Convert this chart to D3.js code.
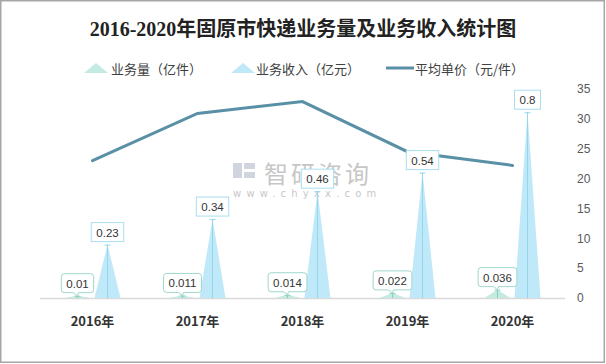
<!DOCTYPE html>
<html><head><meta charset="utf-8">
<script src="https://cdn.jsdelivr.net/npm/d3@7"></script>
<style>body{margin:0;background:#fff}svg{display:block}</style>
</head><body>
<svg id="c" width="606" height="364"></svg>
<script>
const years = ["2016年","2017年","2018年","2019年","2020年"];
const volume = [0.01, 0.011, 0.014, 0.022, 0.036];   // 业务量（亿件）
const revenue = [0.23, 0.34, 0.46, 0.54, 0.8];       // 业务收入（亿元）
const price = [23, 30.9, 32.9, 24.5, 22.2];          // 平均单价（元/件）
const rightTicks = [0,5,10,15,20,25,30,35];
const seriesNames = ["业务量（亿件）","业务收入（亿元）","平均单价（元/件）"];
const title = "2016-2020年固原市快递业务量及业务收入统计图";

const svg = d3.select("#c");
const W = 606, H = 364;
const cjk = "'Noto Sans CJK SC','Noto Sans',sans-serif";
const colVol = "#c4eae1", colVolLine = "#86cfbf", colVolBox = "#9fd7cb";
const colRev = "#bfe8f8", colRevLine = "#94d6ec", colRevBox = "#a9def0";
const colLine = "#5a90a6";

svg.append("rect").attr("x",0.75).attr("y",0.75).attr("width",W-2.5).attr("height",H-2.5)
  .attr("fill","#fff").attr("stroke","#a6a6a6").attr("stroke-width",1.5);

svg.append("text").attr("x",303).attr("y",36).attr("text-anchor","middle")
  .attr("font-family","'Liberation Serif','Noto Sans CJK SC',serif").attr("font-weight","bold")
  .attr("font-size",20).attr("fill","#222").text(title);

const x = d3.scaleBand().domain(years).range([40,565]);
const yL = d3.scaleLinear().domain([0,0.9]).range([298,89]);
const yR = d3.scaleLinear().domain([0,35]).range([298,89]);
const off = 15, hw = 13;

// watermark
const wm = svg.append("g").attr("opacity",0.55);
wm.append("rect").attr("x",233).attr("y",163).attr("width",9).attr("height",15).attr("fill","#aab3c8");
wm.append("rect").attr("x",244).attr("y",163).attr("width",11).attr("height",6).attr("fill","#aab3c8");
wm.append("rect").attr("x",244).attr("y",172).attr("width",11).attr("height",6).attr("fill","#aab3c8");
wm.append("text").attr("x",264).attr("y",183).attr("font-family",cjk).attr("font-size",24)
  .attr("letter-spacing",3).attr("fill","#999").text("智研咨询");
wm.append("text").attr("x",233).attr("y",197).attr("font-family","'DejaVu Sans',sans-serif").attr("font-size",10)
  .attr("letter-spacing",5.2).attr("fill","#999").text("www.chyxx.com");

// baseline
svg.append("line").attr("x1",40).attr("x2",565).attr("y1",298.5).attr("y2",298.5)
  .attr("stroke","#d9d9d9").attr("stroke-width",1.5);

// triangles
const tri = (cx, ty) => `M${cx-hw},298 L${cx},${ty} L${cx+hw},298 Z`;
const gV = svg.append("g"), gR = svg.append("g");
years.forEach((yr,i)=>{
  const cv = x(yr)+x.bandwidth()/2 - off, cr = x(yr)+x.bandwidth()/2 + off;
  gV.append("path").attr("d",tri(cv,yL(volume[i]))).attr("fill",colVol);
  gR.append("path").attr("d",tri(cr,yL(revenue[i]))).attr("fill",colRev);
  // drop lines with caps
  [[cv,yL(volume[i]),colVolLine],[cr,yL(revenue[i]),colRevLine]].forEach(([cx,ty,c])=>{
    svg.append("line").attr("x1",cx).attr("x2",cx).attr("y1",ty).attr("y2",298).attr("stroke",c).attr("stroke-width",1);
    svg.append("line").attr("x1",cx-3).attr("x2",cx+3).attr("y1",ty+0.5).attr("y2",ty+0.5).attr("stroke",c).attr("stroke-width",1);
  });
});

// line
svg.append("path").datum(price)
  .attr("d", d3.line().x((d,i)=>x(years[i])+x.bandwidth()/2).y(d=>yR(d)))
  .attr("fill","none").attr("stroke",colLine).attr("stroke-width",3).attr("stroke-linecap","round");

// labels
function label(cx, ty, txt, kind){
  const g = svg.append("g");
  const t = g.append("text").attr("x",cx).attr("text-anchor","middle")
    .attr("font-family","'Liberation Sans',Arial,sans-serif").attr("font-size",11.5).attr("fill","#333").text(txt);
  const w = t.node().getComputedTextLength() + 10, h = 19;
  const bottom = ty - 3, top = bottom - h;
  t.attr("y", top + 14);
  if(kind==="rev"){
    g.insert("rect","text").attr("x",cx-w/2).attr("y",top).attr("width",w).attr("height",h)
      .attr("fill","#fff").attr("stroke",colRevBox).attr("stroke-width",1);
  } else {
    const l=cx-w/2, r=cx+w/2, rr=3;
    const p = `M${l+rr},${top} H${r-rr} Q${r},${top} ${r},${top+rr} V${bottom-rr} Q${r},${bottom} ${r-rr},${bottom} H${cx+1} L${cx},${bottom+3} L${cx-4},${bottom} H${l+rr} Q${l},${bottom} ${l},${bottom-rr} V${top+rr} Q${l},${top} ${l+rr},${top} Z`;
    g.insert("path","text").attr("d",p).attr("fill","#fff").attr("stroke",colVolBox).attr("stroke-width",1);
  }
}
years.forEach((yr,i)=>{
  const c = x(yr)+x.bandwidth()/2;
  label(c-off, yL(volume[i]), String(volume[i]), "vol");
  label(c+off, yL(revenue[i]), String(revenue[i]), "rev");
});

// x axis labels
svg.append("g").selectAll("text").data(years).join("text")
  .attr("x",d=>x(d)+x.bandwidth()/2).attr("y",326).attr("text-anchor","middle")
  .attr("font-family",cjk).attr("font-weight","bold").attr("font-size",13).attr("fill","#333").text(d=>d);

// right axis
const ra = svg.append("g").attr("transform","translate(577,0)")
  .call(d3.axisRight(yR).tickValues(rightTicks).tickSize(0).tickPadding(0));
ra.select(".domain").remove();
ra.selectAll("text").attr("font-family","'Liberation Sans',Arial,sans-serif").attr("font-size",12).attr("fill","#595959");

// legend
const lg = svg.append("g").attr("font-family",cjk).attr("font-size",13).attr("fill","#404040");
lg.append("path").attr("d","M84,73 L96,63 L108,73 Z").attr("fill",colVol);
lg.append("text").attr("x",111).attr("y",74).text(seriesNames[0]);
lg.append("path").attr("d","M231,73 L243,63 L255,73 Z").attr("fill",colRev);
lg.append("text").attr("x",256).attr("y",74).text(seriesNames[1]);
lg.append("line").attr("x1",386).attr("x2",414).attr("y1",68).attr("y2",68).attr("stroke",colLine).attr("stroke-width",3);
lg.append("text").attr("x",415).attr("y",74).text(seriesNames[2]);
</script>
</body></html>
